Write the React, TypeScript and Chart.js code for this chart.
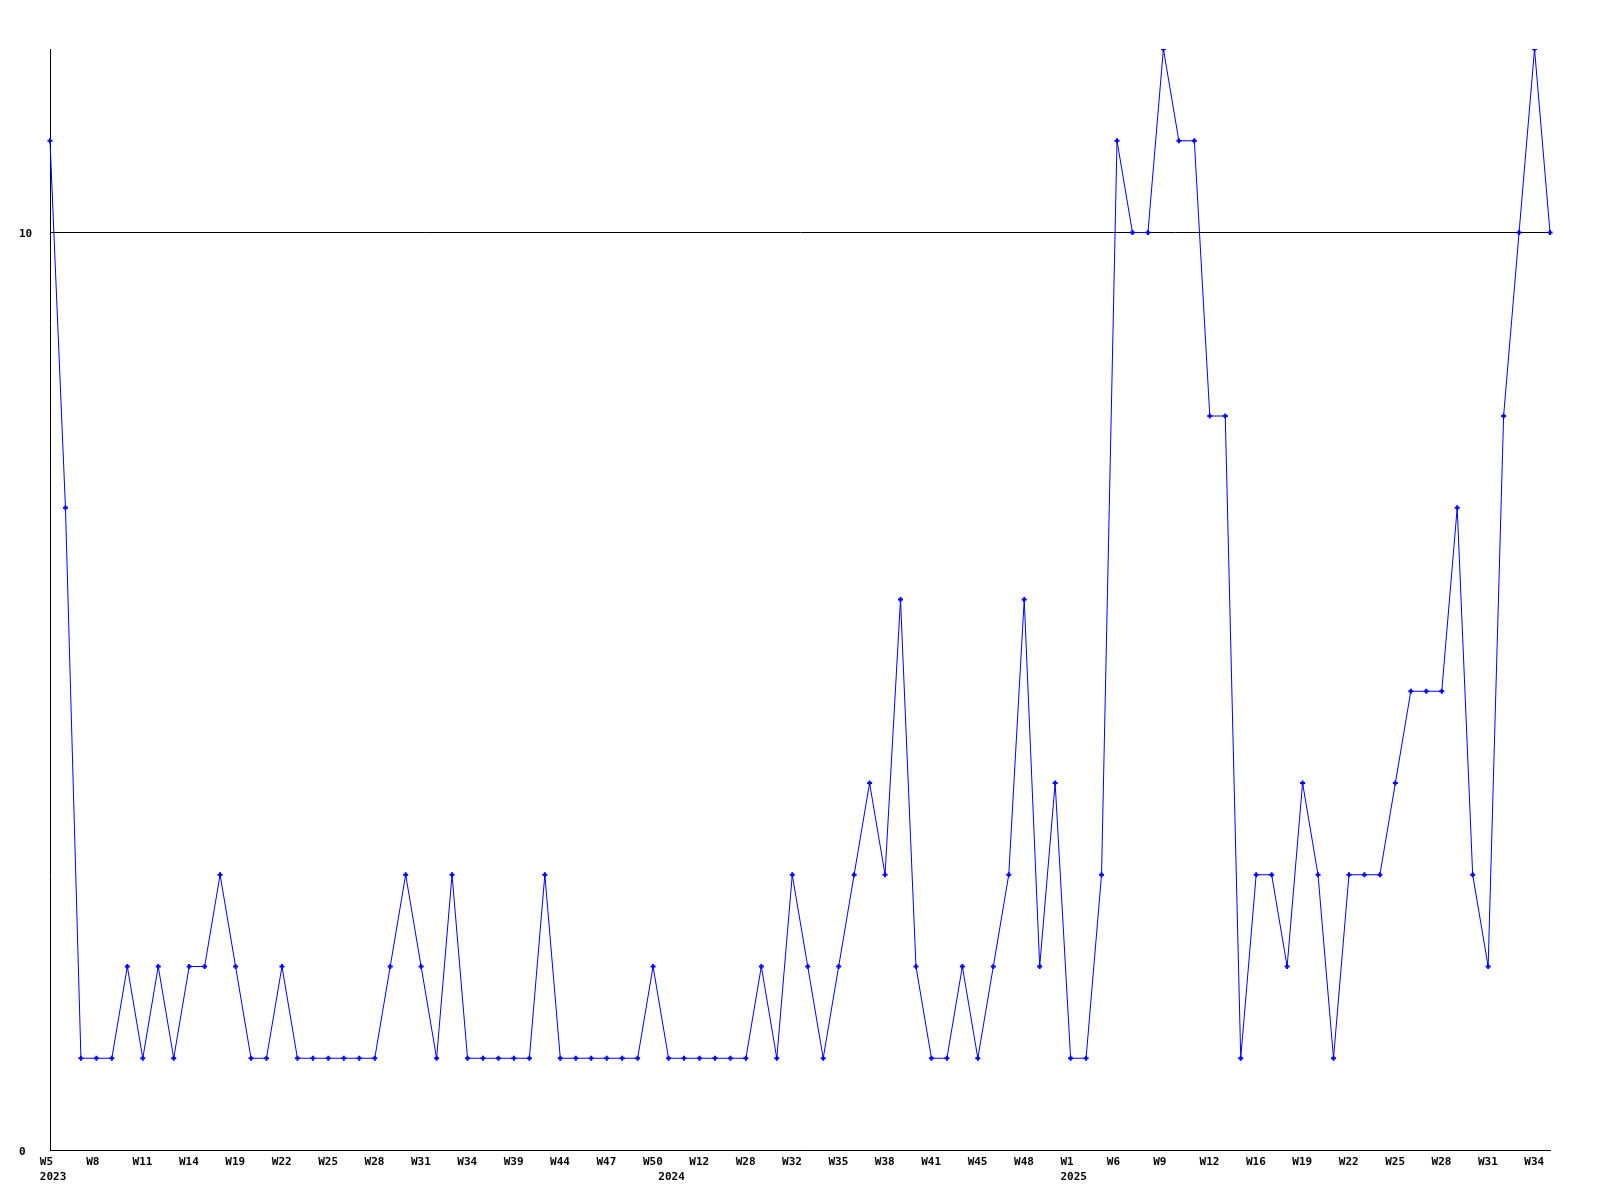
import React, { useEffect, useRef } from 'react';
import { Chart, registerables } from 'chart.js';

Chart.register(...registerables);

// ISO week of each sample (only every third one is printed on the axis)
const weekLabels = [
  'W5', 'W6', 'W7', 'W8', 'W9', 'W10', 'W11', 'W12', 'W13', 'W14',
  'W16', 'W17', 'W19', 'W20', 'W21', 'W22', 'W23', 'W24', 'W25', 'W26',
  'W27', 'W28', 'W29', 'W30', 'W31', 'W32', 'W33', 'W34', 'W35', 'W37',
  'W39', 'W40', 'W42', 'W44', 'W45', 'W46', 'W47', 'W48', 'W49', 'W50',
  'W3', 'W8', 'W12', 'W18', 'W25', 'W28', 'W30', 'W31', 'W32', 'W33',
  'W34', 'W35', 'W36', 'W37', 'W38', 'W39', 'W40', 'W41', 'W43', 'W44',
  'W45', 'W46', 'W47', 'W48', 'W50', 'W52', 'W1', 'W3', 'W5', 'W6',
  'W7', 'W8', 'W9', 'W10', 'W11', 'W12', 'W14', 'W15', 'W16', 'W17',
  'W18', 'W19', 'W20', 'W21', 'W22', 'W23', 'W24', 'W25', 'W26', 'W27',
  'W28', 'W29', 'W30', 'W31', 'W32', 'W33', 'W34', 'W35',
];

const values = [
  11, 7, 1, 1, 1, 2, 1, 2, 1, 2,
  2, 3, 2, 1, 1, 2, 1, 1, 1, 1,
  1, 1, 2, 3, 2, 1, 3, 1, 1, 1,
  1, 1, 3, 1, 1, 1, 1, 1, 1, 2,
  1, 1, 1, 1, 1, 1, 2, 1, 3, 2,
  1, 2, 3, 4, 3, 6, 2, 1, 1, 2,
  1, 2, 3, 6, 2, 4, 1, 1, 3, 11,
  10, 10, 12, 11, 11, 8, 8, 1, 3, 3,
  2, 4, 3, 1, 3, 3, 3, 4, 5, 5,
  5, 7, 3, 2, 8, 10, 12, 10,
];

const yearNames = ['2023', '2024', '2025'];
const yearStartIndex = [0, 40, 66];
const yTickValues = [0, 10];
const labelEvery = 3;
const yMax = 12;

export default function App() {
  const ref = useRef<HTMLCanvasElement>(null);

  useEffect(() => {
    const font = {
      family: '"DejaVu Sans Mono", "Liberation Mono", monospace',
      size: 11,
      weight: 'bold' as const,
      lineHeight: 1.4,
    };
    const n = weekLabels.length;
    const tickIdx = Array.from(new Set([
      ...weekLabels.map((_, i) => i).filter((i) => i % labelEvery === 0),
      ...yearStartIndex,
    ])).sort((a, b) => a - b);
    // labels start a little to the left of their point
    const shift = 0.66;

    const chart = new Chart(ref.current!, {
      type: 'line',
      data: {
        labels: weekLabels,
        datasets: [
          {
            data: values,
            borderColor: '#0000ff',
            backgroundColor: '#0000ff',
            borderWidth: 1,
            tension: 0,
            fill: false,
            pointStyle: 'cross',
            pointRadius: 2.5,
            pointBorderWidth: 2,
            pointBorderColor: '#0000ff',
            pointBackgroundColor: '#0000ff',
          },
        ],
      },
      options: {
        responsive: false,
        animation: false,
        events: [],
        layout: { padding: { left: 19, top: 49, right: 50, bottom: 10 } },
        plugins: {
          legend: { display: false },
          tooltip: { enabled: false },
        },
        scales: {
          x: {
            type: 'category',
            display: false,
            offset: false,
          },
          xl: {
            type: 'linear',
            position: 'bottom',
            bounds: 'data',
            min: shift,
            max: n - 1 + shift,
            grid: { display: false, drawTicks: false },
            border: { display: true, color: '#000', width: 1 },
            afterBuildTicks: (axis: any) => {
              axis.ticks = tickIdx.map((v) => ({ value: v }));
            },
            afterFit: (s: any) => {
              s.height = 40;
            },
            ticks: {
              autoSkip: false,
              maxRotation: 0,
              minRotation: 0,
              align: 'start',
              padding: 4,
              color: '#000',
              font,
              callback: (v: any) => {
                const i = Math.round(Number(v));
                const week = i % labelEvery === 0 ? weekLabels[i] : '';
                const y = yearStartIndex.indexOf(i);
                return y >= 0 ? [week, yearNames[y]] : week;
              },
            },
          },
          y: {
            type: 'linear',
            min: 0,
            max: yMax,
            afterBuildTicks: (axis: any) => {
              axis.ticks = yTickValues.map((v) => ({ value: v }));
            },
            afterFit: (s: any) => {
              s.width = 31;
            },
            grid: { color: '#000', lineWidth: 1, drawTicks: false },
            border: { display: true, color: '#000', width: 1 },
            ticks: {
              crossAlign: 'far',
              padding: 17,
              labelOffset: 2,
              color: '#000',
              font,
            },
          },
        },
      },
    } as any);

    return () => chart.destroy();
  }, []);

  return (
    <canvas
      ref={ref}
      width={1600}
      height={1200}
      style={{ position: 'absolute', left: 0, top: 0, width: 1600, height: 1200 }}
    />
  );
}
